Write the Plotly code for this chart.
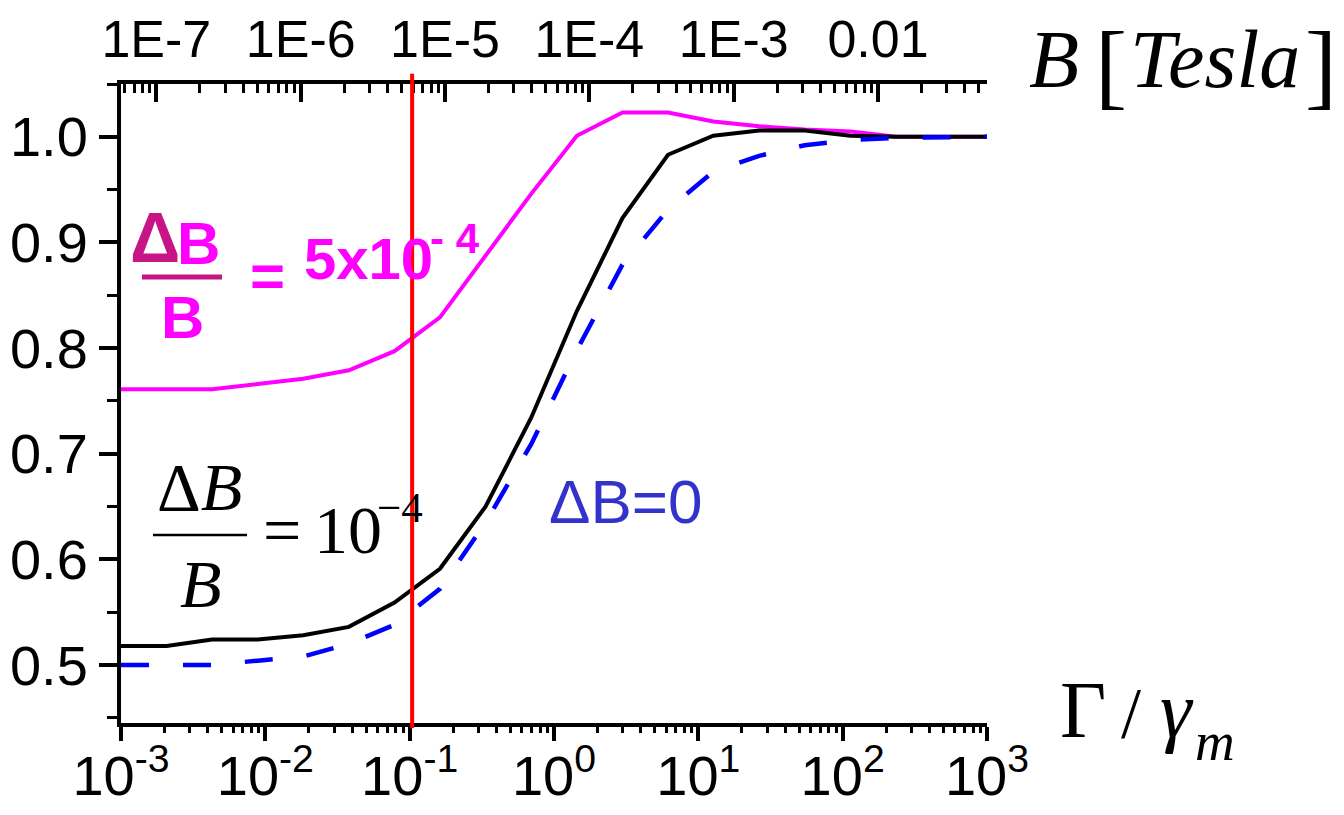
import plotly.graph_objects as go

# ---------------- data ----------------
GAMMA_RATIO = [0.001, 0.00207, 0.00428, 0.00886, 0.0183, 0.0379, 0.0785, 0.162,
               0.336, 0.695, 1.44, 2.98, 6.16, 12.7, 26.4, 54.6, 113, 234, 483, 1000]
Y_DB_5E4 = [0.761, 0.761, 0.761, 0.766, 0.771, 0.779, 0.797, 0.829, 0.887, 0.946,
            1.001, 1.023, 1.023, 1.0145, 1.010, 1.007, 1.005, 1.000, 1.000, 1.000]
Y_DB_1E4 = [0.518, 0.518, 0.524, 0.524, 0.528, 0.536, 0.559, 0.591, 0.650, 0.734,
            0.835, 0.923, 0.983, 1.001, 1.006, 1.006, 1.001, 1.000, 1.000, 1.000]
Y_DB_0 = [0.500, 0.500, 0.500, 0.504, 0.508, 0.520, 0.538, 0.572, 0.635, 0.709,
          0.798, 0.879, 0.931, 0.967, 0.982, 0.992, 0.997, 0.999, 1.000, 1.000]
RED_LINE_X = 0.104

BOTTOM_TICKS = [1e-3, 1e-2, 1e-1, 1e0, 1e1, 1e2, 1e3]
BOTTOM_TICKTEXT = ["10<sup>-3</sup>", "10<sup>-2</sup>", "10<sup>-1</sup>", "10<sup>0</sup>",
                   "10<sup>1</sup>", "10<sup>2</sup>", "10<sup>3</sup>"]
TOP_TICKS = [1e-7, 1e-6, 1e-5, 1e-4, 1e-3, 1e-2]
TOP_TICKTEXT = ["1E-7", "1E-6", "1E-5", "1E-4", "1E-3", "0.01"]
Y_TICKS = [0.5, 0.6, 0.7, 0.8, 0.9, 1.0]
Y_TICKTEXT = ["0.5", "0.6", "0.7", "0.8", "0.9", "1.0"]

MINOR_MULT = [2, 3, 4, 5, 6, 7, 8, 9]
BOTTOM_MINOR = [m * d for d in [1e-3, 1e-2, 1e-1, 1e0, 1e1, 1e2] for m in MINOR_MULT]
TOP_MINOR = [m * d for d in [1e-8, 1e-7, 1e-6, 1e-5, 1e-4, 1e-3, 1e-2] for m in MINOR_MULT]

# ---------------- layout geometry (page pixels) ----------------
BODY = 8                       # default page margin around the plot div
W, H = 1344 - 2 * BODY, 815 - 2 * BODY
L, R_EDGE, T, B_EDGE = 121, 987, 84, 723   # plot area in page pixels
PW, PH = R_EDGE - L, B_EDGE - T


def px(x):
    return (x - L) / PW


def py(y):
    return (B_EDGE - y) / PH


SANS = "Liberation Sans, Arial, sans-serif"
SERIF = "Liberation Serif, Times New Roman, serif"

fig = go.Figure()

fig.add_trace(go.Scatter(x=GAMMA_RATIO, y=Y_DB_5E4, mode="lines",
                         line=dict(color="#FF00FF", width=4), showlegend=False))
fig.add_trace(go.Scatter(x=GAMMA_RATIO, y=Y_DB_1E4, mode="lines",
                         line=dict(color="#000000", width=4), showlegend=False))
fig.add_trace(go.Scatter(x=GAMMA_RATIO, y=Y_DB_0, mode="lines",
                         line=dict(color="#0000FF", width=4.5, dash="28px,34px"),
                         showlegend=False))
# invisible trace to bind the top axis
fig.add_trace(go.Scatter(x=[1e-5], y=[0.8], xaxis="x2", mode="markers",
                         marker=dict(opacity=0), showlegend=False, hoverinfo="skip"))

fig.add_shape(type="line", xref="x", yref="paper", x0=RED_LINE_X, x1=RED_LINE_X,
              y0=-0.008, y1=1.016, line=dict(color="#FF0000", width=4), layer="above")

axis_common = dict(showgrid=False, zeroline=False, showline=True, linecolor="black",
                   linewidth=4, tickcolor="black", tickwidth=3.5, automargin=False)

fig.update_layout(
    width=W, height=H,
    margin=dict(l=L - BODY, r=(W + BODY) - R_EDGE, t=T - BODY, b=(H + BODY) - B_EDGE,
                pad=0, autoexpand=False),
    plot_bgcolor="white", paper_bgcolor="white",
    xaxis=dict(type="log", range=[-3, 3], tickmode="array", tickvals=BOTTOM_TICKS,
               ticktext=BOTTOM_TICKTEXT, ticks="outside", ticklen=14, ticklabelstandoff=-13,
               tickfont=dict(family=SANS, size=56, color="black"),
               minor=dict(tickmode="array", tickvals=BOTTOM_MINOR, ticks="outside",
                          ticklen=6, tickwidth=3, tickcolor="black"),
               mirror=False, **axis_common),
    xaxis2=dict(type="log", range=[-7.245, -1.245], overlaying="x", side="top",
                anchor="y", tickmode="array", tickvals=TOP_TICKS, ticktext=TOP_TICKTEXT,
                ticks="inside", ticklen=18, ticklabelstandoff=2,
                tickfont=dict(family=SANS, size=52, color="black"),
                minor=dict(tickmode="array", tickvals=TOP_MINOR, ticks="inside",
                           ticklen=9, tickwidth=3, tickcolor="black"),
                **axis_common),
    yaxis=dict(range=[0.445, 1.05], tickmode="array", tickvals=Y_TICKS, ticktext=Y_TICKTEXT,
               ticks="outside", ticklen=18,
               tickfont=dict(family=SANS, size=56, color="black"),
               minor=dict(dtick=0.05, ticks="outside", ticklen=10, tickwidth=3,
                          tickcolor="black"),
               **axis_common),
)

ann = []


def text(x, y, s, size, color="black", family=SANS):
    ann.append(dict(x=px(x), y=py(y), xref="paper", yref="paper", text=s,
                    showarrow=False, xanchor="center", yanchor="middle",
                    font=dict(family=family, size=size, color=color)))


# magenta label  dB/B = 5x10^-4
text(155, 238, "<b>Δ</b>", 70, "#C71585")
text(198, 244, "<b>B</b>", 60, "#FF00FF")
text(182, 317, "<b>B</b>", 60, "#FF00FF")
text(267, 275, "<b>=</b>", 60, "#FF00FF")
text(368, 259, "<b>5x10</b>", 58, "#FF00FF")
text(455, 239, "<b>- 4</b>", 42, "#FF00FF")
fig.add_shape(type="line", xref="paper", yref="paper", x0=px(142), x1=px(222),
              y0=py(277), y1=py(277), line=dict(color="#C71585", width=5))

# black label  dB/B = 10^-4
text(199, 487, "Δ<i>B</i>", 68, "black", SERIF)
text(201, 584, "<i>B</i>", 68, "black", SERIF)
text(282, 530, "=", 68, "black", SERIF)
text(348, 530, "10", 68, "black", SERIF)
text(400, 507, "−4", 43, "black", SERIF)
fig.add_shape(type="line", xref="paper", yref="paper", x0=px(153), x1=px(247),
              y0=py(535), y1=py(535), line=dict(color="black", width=2.5))

# blue label
text(625, 501, "ΔB=0", 62, "#3333CC")

# top-right axis title  B[Tesla]
text(1054, 60, "<i>B</i>", 82, "black", SERIF)
text(1111, 64, "[", 96, "black", SERIF)
text(1215, 60, "<i>Tesla</i>", 82, "black", SERIF)
text(1321, 64, "]", 96, "black", SERIF)

# bottom-right axis title  Gamma / gamma_m
text(1083, 710, "Γ", 80, "black", SERIF)
text(1131, 713, "/", 72, "black", SERIF)
text(1177, 710, "<i>γ</i>", 80, "black", SERIF)
text(1215, 741, "<i>m</i>", 55, "black", SERIF)

fig.update_layout(annotations=ann)
fig.write_html("out.html")
